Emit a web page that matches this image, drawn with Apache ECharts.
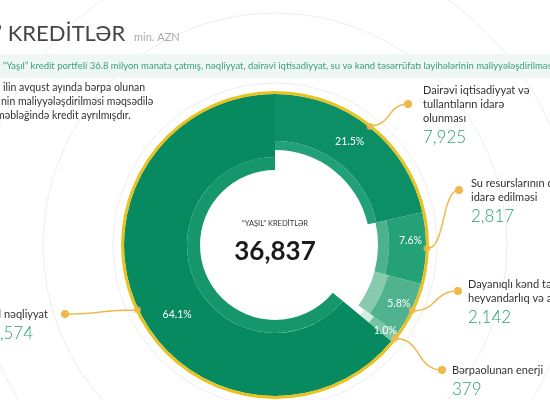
<!DOCTYPE html>
<html><head><meta charset="utf-8">
<script src="https://cdn.jsdelivr.net/npm/echarts@6/dist/echarts.min.js"></script>
<style>html,body{margin:0;padding:0;background:#fff}#c{width:550px;height:400px}</style>
</head><body><div id="c"></div>
<script>
// ---- data ----
const categories = ['Dairəvi iqtisadiyyat və\ntullantıların idarə\nolunması', 'Su resurslarının dayanıqlı\nidarə edilməsi', 'Dayanıqlı kənd təsərrüfatı,\nheyvandarlıq və akvakultura', 'Bərpaolunan enerji', 'Yaşıl nəqliyyat'];
const values = [7925, 2817, 2142, 379, 23574];
const percentLabels = ['21.5%', '7.6%', '5.8%', '1.0%', '64.1%'];
const centerTitle = '“YAŞIL” KREDİTLƏR';

// ---- layout / style ----
const FONT = 'Lato, "Open Sans", sans-serif';
const C = [275, 245];
const segStyle = [
  {band: [95, 104], r: 151, color: '#0c8f64', bandColor: '#22a077'},
  {band: [103, 114], r: 151, color: '#25a177', bandColor: '#4db18d'},
  {band: [103, 117], r: 151, color: '#50b28f', bandColor: '#88caae'},
  {band: [110, 122], r: 151, color: '#78c5a6', bandColor: '#d3ede3'},
  {band: [75, 88], r: 151, color: '#078a60', bandColor: '#15976b'}
];
const pctShift = [[-7, -2], [0, -7], [0, 0], [0, 0], [13, 17]];
const labelPos = [
  {dot: [408, 104], tx: 423},
  {dot: [459, 190], tx: 471},
  {dot: [458, 291], tx: 468},
  {dot: [442, 370], tx: 452},
  {dot: [65, 314], tx: -20}
];
const NAME_LH = 14;

const total = values.reduce((a, b) => a + b, 0);
const fmt = v => v.toLocaleString('en-US');

const series = [];
segStyle.forEach((s, i) => {
  const mk = isBand => ({
    type: 'pie', silent: true, animation: false, center: C, startAngle: 90, clockwise: true,
    radius: isBand ? [s.band[0], s.band[1]] : [s.band[1], s.r],
    avoidLabelOverlap: false,
    label: {show: false}, labelLine: {show: false},
    itemStyle: {borderWidth: 0},
    labelLayout: isBand ? undefined : (p => ({dx: pctShift[p.dataIndex][0], dy: pctShift[p.dataIndex][1]})),
    data: values.map((v, j) => ({
      value: v, name: categories[j],
      itemStyle: {color: j === i ? (isBand ? s.bandColor : s.color) : 'rgba(0,0,0,0)', borderWidth: 0},
      label: (!isBand && j === i)
        ? {show: true, position: 'inside', formatter: percentLabels[i], color: '#ffffff', fontSize: 10.5, fontFamily: FONT}
        : {show: false}
    }))
  });
  series.push(mk(true), mk(false));
});

// yellow outer ring
series.push({
  type: 'pie', silent: true, animation: false, center: C, radius: [151, 154],
  label: {show: false}, labelLine: {show: false},
  itemStyle: {color: '#e8c21e', borderWidth: 0},
  data: [{value: total, name: 'ring'}]
});

// connector / label series
function bezierPts(A, D) {
  const k = (D[0] - A[0]) * 0.55;
  const c1 = [A[0] + k, A[1]], c2 = [D[0] - k, D[1]];
  const pts = [];
  for (let t = 0; t <= 1.0001; t += 1 / 24) {
    const u = 1 - t;
    pts.push([
      u*u*u*A[0] + 3*u*u*t*c1[0] + 3*u*t*t*c2[0] + t*t*t*D[0],
      u*u*u*A[1] + 3*u*u*t*c1[1] + 3*u*t*t*c2[1] + t*t*t*D[1]
    ]);
  }
  return pts;
}
series.push({
  type: 'pie', silent: true, animation: false, center: C, startAngle: 90, clockwise: true,
  radius: [150, 153], avoidLabelOverlap: false,
  itemStyle: {color: 'rgba(0,0,0,0)', borderWidth: 0},
  label: {
    show: true, position: 'outside',
    formatter: p => p.name.split('\n').map(l => '{n|' + l + '}').join('\n') + '\n{v|' + fmt(p.value) + '}',
    rich: {
      n: {fontSize: 11, lineHeight: NAME_LH, color: '#333333', fontFamily: FONT},
      v: {fontSize: 17, lineHeight: 26, color: '#2e9e78', fontFamily: FONT, fontWeight: 300}
    }
  },
  labelLine: {show: true, length: 10, length2: 10, smooth: false, lineStyle: {color: '#f0b84a', width: 1.5}},
  labelLayout: function (p) {
    const L = labelPos[p.dataIndex];
    const nLines = categories[p.dataIndex].split('\n').length;
    const A = p.labelLinePoints ? p.labelLinePoints[0] : L.dot;
    return {
      x: L.tx, y: L.dot[1] - nLines * NAME_LH / 2,
      align: 'left', verticalAlign: 'top',
      labelLinePoints: bezierPts(A, L.dot)
    };
  },
  data: values.map((v, j) => ({value: v, name: categories[j]}))
});

// anchor dots on the ring (polar, from data)
const mids = [];
let cum = 0;
values.forEach(v => { mids.push([152, cum + v / 2]); cum += v; });
series.push({
  type: 'scatter', coordinateSystem: 'polar', silent: true, animation: false,
  symbolSize: 7, itemStyle: {color: '#f0b84a'}, data: mids, z: 5
});

const graphics = [
  ...[162, 232, 300].map(r => ({type: 'circle', z: -10, shape: {cx: C[0], cy: C[1], r: r}, style: {fill: 'none', stroke: '#eeeeee', lineWidth: 1}})),
  {type: 'rect', z: -5, shape: {x: 0, y: 54, width: 550, height: 24}, style: {fill: '#eef7f3'}},
  {type: 'text', z: 10, x: -6, y: 34, style: {text: '” KREDİTLƏR', font: '22px ' + FONT, fill: '#454545', verticalAlign: 'middle'}},
  {type: 'text', z: 10, x: 134, y: 37, style: {text: 'min. AZN', font: '11px ' + FONT, fill: '#aaaaaa', verticalAlign: 'middle'}},
  {type: 'text', z: 10, x: 3, y: 66, style: {text: '“Yaşıl” kredit portfeli 36.8 milyon manata çatmış, nəqliyyat, dairəvi iqtisadiyyat, su və kənd təsərrüfatı layihələrinin maliyyələşdirilməsinə yönəlmişdir.', font: '9.5px ' + FONT, fill: '#3b9f7a', verticalAlign: 'middle'}},
  {type: 'text', z: 10, x: 3, y: 88, style: {text: 'ilin avqust ayında bərpa olunan', font: '10.5px ' + FONT, fill: '#333333', verticalAlign: 'middle'}},
  {type: 'text', z: 10, x: 1, y: 102, style: {text: 'nin maliyyələşdirilməsi məqsədilə', font: '10.5px ' + FONT, fill: '#333333', verticalAlign: 'middle'}},
  {type: 'text', z: 10, x: -4, y: 116, style: {text: 'məbləğində kredit ayrılmışdır.', font: '10.5px ' + FONT, fill: '#333333', verticalAlign: 'middle'}},
  {type: 'text', z: 10, x: C[0], y: 224, style: {text: centerTitle, font: '7.5px ' + FONT, fill: '#333333', align: 'center', verticalAlign: 'middle'}},
  {type: 'text', z: 10, x: C[0], y: 252, style: {text: fmt(total), font: 'bold 26px ' + FONT, fill: '#1a1a1a', align: 'center', verticalAlign: 'middle'}},
  ...labelPos.map(L => ({type: 'circle', z: 10, shape: {cx: L.dot[0], cy: L.dot[1], r: 4}, style: {fill: '#f0b84a'}}))
];

const chart = echarts.init(document.getElementById('c'), null, {renderer: 'canvas'});
chart.setOption({
  backgroundColor: '#ffffff',
  animation: false,
  polar: {center: C, radius: 152},
  angleAxis: {type: 'value', min: 0, max: total, startAngle: 90, clockwise: true, show: false},
  radiusAxis: {type: 'value', min: 0, max: 152, show: false},
  graphic: graphics,
  series: series
});
</script>
</body></html>
